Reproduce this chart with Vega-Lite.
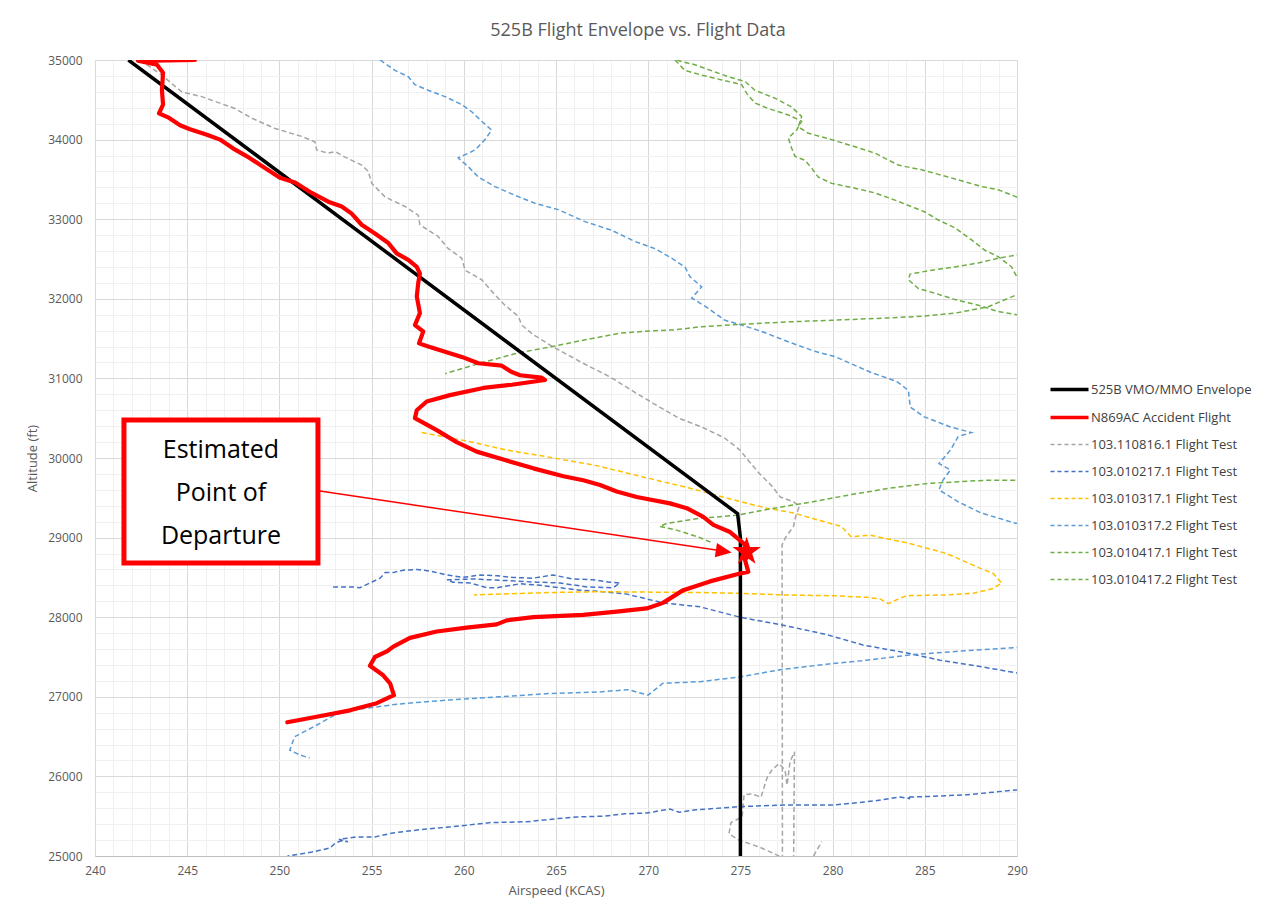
{
  "$schema": "https://vega.github.io/schema/vega-lite/v6.json",
  "autosize": {"type": "none"},
  "width": 922,
  "height": 796,
  "padding": {"left": 95, "top": 60, "right": 255, "bottom": 62},
  "background": "#ffffff",
  "config": {
    "view": {"stroke": null},
    "font": "Open Sans"
  },
  "title": {
    "text": "525B Flight Envelope vs. Flight Data",
    "font": "Open Sans",
    "fontSize": 18,
    "fontWeight": "normal",
    "color": "#595959",
    "anchor": "middle",
    "dx": 82,
    "offset": 14
  },
  "datasets": {
    "flights": [
      {"series": "525B VMO/MMO Envelope", "kcas": 241.81, "alt": 35000},
      {"series": "525B VMO/MMO Envelope", "kcas": 274.85, "alt": 29300},
      {"series": "525B VMO/MMO Envelope", "kcas": 275.0, "alt": 29000},
      {"series": "525B VMO/MMO Envelope", "kcas": 275.0, "alt": 25000},

      {"series": "N869AC Accident Flight", "kcas": 245.42, "alt": 35000},
      {"series": "N869AC Accident Flight", "kcas": 242.33, "alt": 34990},
      {"series": "N869AC Accident Flight", "kcas": 243.36, "alt": 34940},
      {"series": "N869AC Accident Flight", "kcas": 243.69, "alt": 34840},
      {"series": "N869AC Accident Flight", "kcas": 243.63, "alt": 34620},
      {"series": "N869AC Accident Flight", "kcas": 243.69, "alt": 34440},
      {"series": "N869AC Accident Flight", "kcas": 243.47, "alt": 34330},
      {"series": "N869AC Accident Flight", "kcas": 243.96, "alt": 34280},
      {"series": "N869AC Accident Flight", "kcas": 244.61, "alt": 34180},
      {"series": "N869AC Accident Flight", "kcas": 245.15, "alt": 34130},
      {"series": "N869AC Accident Flight", "kcas": 246.07, "alt": 34060},
      {"series": "N869AC Accident Flight", "kcas": 246.78, "alt": 34000},
      {"series": "N869AC Accident Flight", "kcas": 247.48, "alt": 33890},
      {"series": "N869AC Accident Flight", "kcas": 248.24, "alt": 33790},
      {"series": "N869AC Accident Flight", "kcas": 249.11, "alt": 33660},
      {"series": "N869AC Accident Flight", "kcas": 250.03, "alt": 33520},
      {"series": "N869AC Accident Flight", "kcas": 250.85, "alt": 33460},
      {"series": "N869AC Accident Flight", "kcas": 251.75, "alt": 33330},
      {"series": "N869AC Accident Flight", "kcas": 252.65, "alt": 33220},
      {"series": "N869AC Accident Flight", "kcas": 253.38, "alt": 33160},
      {"series": "N869AC Accident Flight", "kcas": 253.92, "alt": 33070},
      {"series": "N869AC Accident Flight", "kcas": 254.46, "alt": 32930},
      {"series": "N869AC Accident Flight", "kcas": 255.18, "alt": 32820},
      {"series": "N869AC Accident Flight", "kcas": 255.91, "alt": 32700},
      {"series": "N869AC Accident Flight", "kcas": 256.36, "alt": 32570},
      {"series": "N869AC Accident Flight", "kcas": 256.99, "alt": 32490},
      {"series": "N869AC Accident Flight", "kcas": 257.45, "alt": 32400},
      {"series": "N869AC Accident Flight", "kcas": 257.62, "alt": 32320},
      {"series": "N869AC Accident Flight", "kcas": 257.53, "alt": 32200},
      {"series": "N869AC Accident Flight", "kcas": 257.45, "alt": 32030},
      {"series": "N869AC Accident Flight", "kcas": 257.62, "alt": 31820},
      {"series": "N869AC Accident Flight", "kcas": 257.35, "alt": 31670},
      {"series": "N869AC Accident Flight", "kcas": 257.8, "alt": 31590},
      {"series": "N869AC Accident Flight", "kcas": 257.57, "alt": 31440},
      {"series": "N869AC Accident Flight", "kcas": 258.07, "alt": 31400},
      {"series": "N869AC Accident Flight", "kcas": 259.89, "alt": 31270},
      {"series": "N869AC Accident Flight", "kcas": 260.79, "alt": 31190},
      {"series": "N869AC Accident Flight", "kcas": 262.06, "alt": 31160},
      {"series": "N869AC Accident Flight", "kcas": 262.6, "alt": 31080},
      {"series": "N869AC Accident Flight", "kcas": 263.05, "alt": 31040},
      {"series": "N869AC Accident Flight", "kcas": 264.22, "alt": 31010},
      {"series": "N869AC Accident Flight", "kcas": 264.4, "alt": 30980},
      {"series": "N869AC Accident Flight", "kcas": 262.6, "alt": 30920},
      {"series": "N869AC Accident Flight", "kcas": 261.06, "alt": 30880},
      {"series": "N869AC Accident Flight", "kcas": 259.25, "alt": 30790},
      {"series": "N869AC Accident Flight", "kcas": 257.99, "alt": 30710},
      {"series": "N869AC Accident Flight", "kcas": 257.45, "alt": 30600},
      {"series": "N869AC Accident Flight", "kcas": 257.35, "alt": 30500},
      {"series": "N869AC Accident Flight", "kcas": 258.53, "alt": 30350},
      {"series": "N869AC Accident Flight", "kcas": 259.61, "alt": 30200},
      {"series": "N869AC Accident Flight", "kcas": 260.7, "alt": 30080},
      {"series": "N869AC Accident Flight", "kcas": 262.14, "alt": 29980},
      {"series": "N869AC Accident Flight", "kcas": 263.77, "alt": 29870},
      {"series": "N869AC Accident Flight", "kcas": 265.4, "alt": 29770},
      {"series": "N869AC Accident Flight", "kcas": 266.48, "alt": 29720},
      {"series": "N869AC Accident Flight", "kcas": 267.39, "alt": 29660},
      {"series": "N869AC Accident Flight", "kcas": 268.29, "alt": 29580},
      {"series": "N869AC Accident Flight", "kcas": 269.38, "alt": 29510},
      {"series": "N869AC Accident Flight", "kcas": 271.18, "alt": 29430},
      {"series": "N869AC Accident Flight", "kcas": 272.09, "alt": 29370},
      {"series": "N869AC Accident Flight", "kcas": 272.99, "alt": 29260},
      {"series": "N869AC Accident Flight", "kcas": 273.53, "alt": 29160},
      {"series": "N869AC Accident Flight", "kcas": 274.44, "alt": 29070},
      {"series": "N869AC Accident Flight", "kcas": 275.16, "alt": 28930},
      {"series": "N869AC Accident Flight", "kcas": 275.52, "alt": 28800},
      {"series": "N869AC Accident Flight", "kcas": 275.25, "alt": 28720},
      {"series": "N869AC Accident Flight", "kcas": 275.43, "alt": 28570},
      {"series": "N869AC Accident Flight", "kcas": 274.98, "alt": 28550},
      {"series": "N869AC Accident Flight", "kcas": 273.35, "alt": 28450},
      {"series": "N869AC Accident Flight", "kcas": 271.9, "alt": 28340},
      {"series": "N869AC Accident Flight", "kcas": 270.8, "alt": 28180},
      {"series": "N869AC Accident Flight", "kcas": 269.92, "alt": 28110},
      {"series": "N869AC Accident Flight", "kcas": 268.29, "alt": 28070},
      {"series": "N869AC Accident Flight", "kcas": 266.48, "alt": 28030},
      {"series": "N869AC Accident Flight", "kcas": 263.77, "alt": 28000},
      {"series": "N869AC Accident Flight", "kcas": 262.33, "alt": 27960},
      {"series": "N869AC Accident Flight", "kcas": 261.78, "alt": 27910},
      {"series": "N869AC Accident Flight", "kcas": 260.16, "alt": 27870},
      {"series": "N869AC Accident Flight", "kcas": 258.53, "alt": 27820},
      {"series": "N869AC Accident Flight", "kcas": 257.08, "alt": 27740},
      {"series": "N869AC Accident Flight", "kcas": 256.18, "alt": 27630},
      {"series": "N869AC Accident Flight", "kcas": 255.82, "alt": 27570},
      {"series": "N869AC Accident Flight", "kcas": 255.18, "alt": 27500},
      {"series": "N869AC Accident Flight", "kcas": 254.91, "alt": 27390},
      {"series": "N869AC Accident Flight", "kcas": 255.63, "alt": 27270},
      {"series": "N869AC Accident Flight", "kcas": 256.0, "alt": 27170},
      {"series": "N869AC Accident Flight", "kcas": 256.21, "alt": 27020},
      {"series": "N869AC Accident Flight", "kcas": 255.28, "alt": 26920},
      {"series": "N869AC Accident Flight", "kcas": 253.83, "alt": 26830},
      {"series": "N869AC Accident Flight", "kcas": 252.02, "alt": 26750},
      {"series": "N869AC Accident Flight", "kcas": 250.43, "alt": 26680},

      {"series": "103.110816.1 Flight Test", "kcas": 242.44, "alt": 35000},
      {"series": "103.110816.1 Flight Test", "kcas": 243.62, "alt": 34810},
      {"series": "103.110816.1 Flight Test", "kcas": 244.7, "alt": 34600},
      {"series": "103.110816.1 Flight Test", "kcas": 245.79, "alt": 34540},
      {"series": "103.110816.1 Flight Test", "kcas": 247.59, "alt": 34390},
      {"series": "103.110816.1 Flight Test", "kcas": 248.5, "alt": 34270},
      {"series": "103.110816.1 Flight Test", "kcas": 249.76, "alt": 34140},
      {"series": "103.110816.1 Flight Test", "kcas": 251.21, "alt": 34040},
      {"series": "103.110816.1 Flight Test", "kcas": 251.93, "alt": 33970},
      {"series": "103.110816.1 Flight Test", "kcas": 252.02, "alt": 33870},
      {"series": "103.110816.1 Flight Test", "kcas": 252.65, "alt": 33830},
      {"series": "103.110816.1 Flight Test", "kcas": 253.02, "alt": 33850},
      {"series": "103.110816.1 Flight Test", "kcas": 253.47, "alt": 33790},
      {"series": "103.110816.1 Flight Test", "kcas": 254.46, "alt": 33680},
      {"series": "103.110816.1 Flight Test", "kcas": 254.82, "alt": 33600},
      {"series": "103.110816.1 Flight Test", "kcas": 255.01, "alt": 33450},
      {"series": "103.110816.1 Flight Test", "kcas": 255.73, "alt": 33280},
      {"series": "103.110816.1 Flight Test", "kcas": 256.81, "alt": 33160},
      {"series": "103.110816.1 Flight Test", "kcas": 257.53, "alt": 33050},
      {"series": "103.110816.1 Flight Test", "kcas": 257.62, "alt": 32930},
      {"series": "103.110816.1 Flight Test", "kcas": 258.62, "alt": 32780},
      {"series": "103.110816.1 Flight Test", "kcas": 259.16, "alt": 32630},
      {"series": "103.110816.1 Flight Test", "kcas": 259.89, "alt": 32510},
      {"series": "103.110816.1 Flight Test", "kcas": 260.07, "alt": 32360},
      {"series": "103.110816.1 Flight Test", "kcas": 260.97, "alt": 32240},
      {"series": "103.110816.1 Flight Test", "kcas": 261.69, "alt": 32050},
      {"series": "103.110816.1 Flight Test", "kcas": 262.23, "alt": 31920},
      {"series": "103.110816.1 Flight Test", "kcas": 262.96, "alt": 31780},
      {"series": "103.110816.1 Flight Test", "kcas": 263.14, "alt": 31670},
      {"series": "103.110816.1 Flight Test", "kcas": 263.77, "alt": 31550},
      {"series": "103.110816.1 Flight Test", "kcas": 264.81, "alt": 31400},
      {"series": "103.110816.1 Flight Test", "kcas": 266.47, "alt": 31190},
      {"series": "103.110816.1 Flight Test", "kcas": 267.92, "alt": 31020},
      {"series": "103.110816.1 Flight Test", "kcas": 269.38, "alt": 30810},
      {"series": "103.110816.1 Flight Test", "kcas": 270.62, "alt": 30640},
      {"series": "103.110816.1 Flight Test", "kcas": 271.66, "alt": 30500},
      {"series": "103.110816.1 Flight Test", "kcas": 272.9, "alt": 30390},
      {"series": "103.110816.1 Flight Test", "kcas": 274.15, "alt": 30250},
      {"series": "103.110816.1 Flight Test", "kcas": 274.98, "alt": 30100},
      {"series": "103.110816.1 Flight Test", "kcas": 275.39, "alt": 29980},
      {"series": "103.110816.1 Flight Test", "kcas": 276.01, "alt": 29810},
      {"series": "103.110816.1 Flight Test", "kcas": 276.74, "alt": 29640},
      {"series": "103.110816.1 Flight Test", "kcas": 277.16, "alt": 29510},
      {"series": "103.110816.1 Flight Test", "kcas": 277.88, "alt": 29450},
      {"series": "103.110816.1 Flight Test", "kcas": 278.19, "alt": 29390},
      {"series": "103.110816.1 Flight Test", "kcas": 277.99, "alt": 29260},
      {"series": "103.110816.1 Flight Test", "kcas": 277.88, "alt": 29140},
      {"series": "103.110816.1 Flight Test", "kcas": 277.47, "alt": 29010},
      {"series": "103.110816.1 Flight Test", "kcas": 277.26, "alt": 28910},
      {"series": "103.110816.1 Flight Test", "kcas": 277.28, "alt": 25000},
      {"series": "103.110816.1 Flight Test", "kcas": 277.28, "alt": 24700},
      {"series": "103.110816.1 Flight Test", "kcas": 277.88, "alt": 24700},
      {"series": "103.110816.1 Flight Test", "kcas": 277.93, "alt": 26310},
      {"series": "103.110816.1 Flight Test", "kcas": 277.69, "alt": 26180},
      {"series": "103.110816.1 Flight Test", "kcas": 277.53, "alt": 25890},
      {"series": "103.110816.1 Flight Test", "kcas": 277.42, "alt": 26080},
      {"series": "103.110816.1 Flight Test", "kcas": 277.09, "alt": 26160},
      {"series": "103.110816.1 Flight Test", "kcas": 276.71, "alt": 26080},
      {"series": "103.110816.1 Flight Test", "kcas": 276.44, "alt": 25980},
      {"series": "103.110816.1 Flight Test", "kcas": 276.12, "alt": 25740},
      {"series": "103.110816.1 Flight Test", "kcas": 275.63, "alt": 25780},
      {"series": "103.110816.1 Flight Test", "kcas": 275.2, "alt": 25770},
      {"series": "103.110816.1 Flight Test", "kcas": 275.09, "alt": 25490},
      {"series": "103.110816.1 Flight Test", "kcas": 274.49, "alt": 25420},
      {"series": "103.110816.1 Flight Test", "kcas": 274.38, "alt": 25280},
      {"series": "103.110816.1 Flight Test", "kcas": 274.92, "alt": 25200},
      {"series": "103.110816.1 Flight Test", "kcas": 276.06, "alt": 25110},
      {"series": "103.110816.1 Flight Test", "kcas": 277.09, "alt": 25000},
      {"series": "103.110816.1 Flight Test", "kcas": 277.42, "alt": 24700},
      {"series": "103.110816.1 Flight Test", "kcas": 278.89, "alt": 24700},
      {"series": "103.110816.1 Flight Test", "kcas": 278.94, "alt": 24990},
      {"series": "103.110816.1 Flight Test", "kcas": 279.41, "alt": 25180},

      {"series": "103.010217.1 Flight Test", "kcas": 252.91, "alt": 28380},
      {"series": "103.010217.1 Flight Test", "kcas": 253.99, "alt": 28380},
      {"series": "103.010217.1 Flight Test", "kcas": 254.37, "alt": 28370},
      {"series": "103.010217.1 Flight Test", "kcas": 254.91, "alt": 28430},
      {"series": "103.010217.1 Flight Test", "kcas": 255.46, "alt": 28490},
      {"series": "103.010217.1 Flight Test", "kcas": 255.73, "alt": 28560},
      {"series": "103.010217.1 Flight Test", "kcas": 256.16, "alt": 28560},
      {"series": "103.010217.1 Flight Test", "kcas": 256.7, "alt": 28590},
      {"series": "103.010217.1 Flight Test", "kcas": 257.46, "alt": 28600},
      {"series": "103.010217.1 Flight Test", "kcas": 258.17, "alt": 28580},
      {"series": "103.010217.1 Flight Test", "kcas": 259.09, "alt": 28530},
      {"series": "103.010217.1 Flight Test", "kcas": 259.96, "alt": 28500},
      {"series": "103.010217.1 Flight Test", "kcas": 260.88, "alt": 28530},
      {"series": "103.010217.1 Flight Test", "kcas": 261.8, "alt": 28520},
      {"series": "103.010217.1 Flight Test", "kcas": 262.67, "alt": 28500},
      {"series": "103.010217.1 Flight Test", "kcas": 263.75, "alt": 28490},
      {"series": "103.010217.1 Flight Test", "kcas": 264.84, "alt": 28530},
      {"series": "103.010217.1 Flight Test", "kcas": 265.92, "alt": 28480},
      {"series": "103.010217.1 Flight Test", "kcas": 267.01, "alt": 28470},
      {"series": "103.010217.1 Flight Test", "kcas": 267.93, "alt": 28440},
      {"series": "103.010217.1 Flight Test", "kcas": 268.47, "alt": 28430},
      {"series": "103.010217.1 Flight Test", "kcas": 268.09, "alt": 28370},
      {"series": "103.010217.1 Flight Test", "kcas": 266.68, "alt": 28380},
      {"series": "103.010217.1 Flight Test", "kcas": 265.22, "alt": 28430},
      {"series": "103.010217.1 Flight Test", "kcas": 263.97, "alt": 28440},
      {"series": "103.010217.1 Flight Test", "kcas": 262.34, "alt": 28460},
      {"series": "103.010217.1 Flight Test", "kcas": 260.5, "alt": 28480},
      {"series": "103.010217.1 Flight Test", "kcas": 259.09, "alt": 28470},
      {"series": "103.010217.1 Flight Test", "kcas": 259.41, "alt": 28440},
      {"series": "103.010217.1 Flight Test", "kcas": 260.34, "alt": 28430},
      {"series": "103.010217.1 Flight Test", "kcas": 261.26, "alt": 28370},
      {"series": "103.010217.1 Flight Test", "kcas": 261.8, "alt": 28370},
      {"series": "103.010217.1 Flight Test", "kcas": 263.05, "alt": 28420},
      {"series": "103.010217.1 Flight Test", "kcas": 264.13, "alt": 28400},
      {"series": "103.010217.1 Flight Test", "kcas": 264.84, "alt": 28380},
      {"series": "103.010217.1 Flight Test", "kcas": 266.3, "alt": 28340},
      {"series": "103.010217.1 Flight Test", "kcas": 267.55, "alt": 28320},
      {"series": "103.010217.1 Flight Test", "kcas": 268.85, "alt": 28290},
      {"series": "103.010217.1 Flight Test", "kcas": 269.72, "alt": 28240},
      {"series": "103.010217.1 Flight Test", "kcas": 270.8, "alt": 28180},
      {"series": "103.010217.1 Flight Test", "kcas": 272.81, "alt": 28130},
      {"series": "103.010217.1 Flight Test", "kcas": 274.98, "alt": 28000},
      {"series": "103.010217.1 Flight Test", "kcas": 277.31, "alt": 27900},
      {"series": "103.010217.1 Flight Test", "kcas": 279.7, "alt": 27780},
      {"series": "103.010217.1 Flight Test", "kcas": 281.65, "alt": 27650},
      {"series": "103.010217.1 Flight Test", "kcas": 284.04, "alt": 27550},
      {"series": "103.010217.1 Flight Test", "kcas": 285.83, "alt": 27460},
      {"series": "103.010217.1 Flight Test", "kcas": 287.99, "alt": 27380},
      {"series": "103.010217.1 Flight Test", "kcas": 290.0, "alt": 27300},
      {"series": "103.010217.1 Flight Test", "kcas": 292.33, "alt": 27210},
      {"series": "103.010217.1 Flight Test", "kcas": 292.33, "alt": 25890},
      {"series": "103.010217.1 Flight Test", "kcas": 290.0, "alt": 25830},
      {"series": "103.010217.1 Flight Test", "kcas": 287.29, "alt": 25770},
      {"series": "103.010217.1 Flight Test", "kcas": 285.44, "alt": 25750},
      {"series": "103.010217.1 Flight Test", "kcas": 284.04, "alt": 25740},
      {"series": "103.010217.1 Flight Test", "kcas": 284.2, "alt": 25720},
      {"series": "103.010217.1 Flight Test", "kcas": 283.66, "alt": 25740},
      {"series": "103.010217.1 Flight Test", "kcas": 282.19, "alt": 25690},
      {"series": "103.010217.1 Flight Test", "kcas": 280.02, "alt": 25640},
      {"series": "103.010217.1 Flight Test", "kcas": 277.31, "alt": 25640},
      {"series": "103.010217.1 Flight Test", "kcas": 274.98, "alt": 25620},
      {"series": "103.010217.1 Flight Test", "kcas": 272.59, "alt": 25580},
      {"series": "103.010217.1 Flight Test", "kcas": 271.67, "alt": 25550},
      {"series": "103.010217.1 Flight Test", "kcas": 271.18, "alt": 25590},
      {"series": "103.010217.1 Flight Test", "kcas": 269.93, "alt": 25540},
      {"series": "103.010217.1 Flight Test", "kcas": 268.74, "alt": 25530},
      {"series": "103.010217.1 Flight Test", "kcas": 267.55, "alt": 25500},
      {"series": "103.010217.1 Flight Test", "kcas": 266.08, "alt": 25490},
      {"series": "103.010217.1 Flight Test", "kcas": 265.11, "alt": 25470},
      {"series": "103.010217.1 Flight Test", "kcas": 263.43, "alt": 25430},
      {"series": "103.010217.1 Flight Test", "kcas": 261.47, "alt": 25420},
      {"series": "103.010217.1 Flight Test", "kcas": 260.28, "alt": 25390},
      {"series": "103.010217.1 Flight Test", "kcas": 259.03, "alt": 25360},
      {"series": "103.010217.1 Flight Test", "kcas": 257.62, "alt": 25330},
      {"series": "103.010217.1 Flight Test", "kcas": 256.16, "alt": 25290},
      {"series": "103.010217.1 Flight Test", "kcas": 255.18, "alt": 25240},
      {"series": "103.010217.1 Flight Test", "kcas": 254.21, "alt": 25240},
      {"series": "103.010217.1 Flight Test", "kcas": 253.23, "alt": 25210},
      {"series": "103.010217.1 Flight Test", "kcas": 253.72, "alt": 25180},
      {"series": "103.010217.1 Flight Test", "kcas": 253.34, "alt": 25190},
      {"series": "103.010217.1 Flight Test", "kcas": 253.01, "alt": 25160},
      {"series": "103.010217.1 Flight Test", "kcas": 252.74, "alt": 25100},
      {"series": "103.010217.1 Flight Test", "kcas": 251.77, "alt": 25050},
      {"series": "103.010217.1 Flight Test", "kcas": 250.47, "alt": 25000},
      {"series": "103.010217.1 Flight Test", "kcas": 250.03, "alt": 24820},

      {"series": "103.010317.1 Flight Test", "kcas": 257.72, "alt": 30320},
      {"series": "103.010317.1 Flight Test", "kcas": 260.24, "alt": 30210},
      {"series": "103.010317.1 Flight Test", "kcas": 262.32, "alt": 30100},
      {"series": "103.010317.1 Flight Test", "kcas": 264.39, "alt": 30020},
      {"series": "103.010317.1 Flight Test", "kcas": 267.09, "alt": 29910},
      {"series": "103.010317.1 Flight Test", "kcas": 269.58, "alt": 29770},
      {"series": "103.010317.1 Flight Test", "kcas": 272.28, "alt": 29620},
      {"series": "103.010317.1 Flight Test", "kcas": 274.35, "alt": 29490},
      {"series": "103.010317.1 Flight Test", "kcas": 276.43, "alt": 29370},
      {"series": "103.010317.1 Flight Test", "kcas": 277.88, "alt": 29310},
      {"series": "103.010317.1 Flight Test", "kcas": 278.92, "alt": 29240},
      {"series": "103.010317.1 Flight Test", "kcas": 280.48, "alt": 29140},
      {"series": "103.010317.1 Flight Test", "kcas": 281.0, "alt": 29010},
      {"series": "103.010317.1 Flight Test", "kcas": 282.03, "alt": 29030},
      {"series": "103.010317.1 Flight Test", "kcas": 284.11, "alt": 28930},
      {"series": "103.010317.1 Flight Test", "kcas": 286.18, "alt": 28800},
      {"series": "103.010317.1 Flight Test", "kcas": 288.05, "alt": 28610},
      {"series": "103.010317.1 Flight Test", "kcas": 288.71, "alt": 28550},
      {"series": "103.010317.1 Flight Test", "kcas": 289.17, "alt": 28430},
      {"series": "103.010317.1 Flight Test", "kcas": 288.71, "alt": 28360},
      {"series": "103.010317.1 Flight Test", "kcas": 287.63, "alt": 28300},
      {"series": "103.010317.1 Flight Test", "kcas": 286.19, "alt": 28280},
      {"series": "103.010317.1 Flight Test", "kcas": 284.02, "alt": 28270},
      {"series": "103.010317.1 Flight Test", "kcas": 283.48, "alt": 28220},
      {"series": "103.010317.1 Flight Test", "kcas": 283.02, "alt": 28170},
      {"series": "103.010317.1 Flight Test", "kcas": 282.57, "alt": 28230},
      {"series": "103.010317.1 Flight Test", "kcas": 281.85, "alt": 28250},
      {"series": "103.010317.1 Flight Test", "kcas": 280.04, "alt": 28270},
      {"series": "103.010317.1 Flight Test", "kcas": 277.33, "alt": 28280},
      {"series": "103.010317.1 Flight Test", "kcas": 274.98, "alt": 28300},
      {"series": "103.010317.1 Flight Test", "kcas": 272.81, "alt": 28310},
      {"series": "103.010317.1 Flight Test", "kcas": 267.29, "alt": 28320},
      {"series": "103.010317.1 Flight Test", "kcas": 264.59, "alt": 28310},
      {"series": "103.010317.1 Flight Test", "kcas": 260.55, "alt": 28280},

      {"series": "103.010317.2 Flight Test", "kcas": 255.46, "alt": 35000},
      {"series": "103.010317.2 Flight Test", "kcas": 256.27, "alt": 34870},
      {"series": "103.010317.2 Flight Test", "kcas": 256.99, "alt": 34790},
      {"series": "103.010317.2 Flight Test", "kcas": 257.35, "alt": 34690},
      {"series": "103.010317.2 Flight Test", "kcas": 258.07, "alt": 34620},
      {"series": "103.010317.2 Flight Test", "kcas": 258.98, "alt": 34540},
      {"series": "103.010317.2 Flight Test", "kcas": 259.34, "alt": 34500},
      {"series": "103.010317.2 Flight Test", "kcas": 259.89, "alt": 34440},
      {"series": "103.010317.2 Flight Test", "kcas": 260.43, "alt": 34350},
      {"series": "103.010317.2 Flight Test", "kcas": 260.97, "alt": 34230},
      {"series": "103.010317.2 Flight Test", "kcas": 261.51, "alt": 34120},
      {"series": "103.010317.2 Flight Test", "kcas": 261.15, "alt": 34000},
      {"series": "103.010317.2 Flight Test", "kcas": 260.61, "alt": 33870},
      {"series": "103.010317.2 Flight Test", "kcas": 259.7, "alt": 33770},
      {"series": "103.010317.2 Flight Test", "kcas": 260.24, "alt": 33660},
      {"series": "103.010317.2 Flight Test", "kcas": 260.79, "alt": 33530},
      {"series": "103.010317.2 Flight Test", "kcas": 261.69, "alt": 33410},
      {"series": "103.010317.2 Flight Test", "kcas": 262.78, "alt": 33300},
      {"series": "103.010317.2 Flight Test", "kcas": 263.86, "alt": 33200},
      {"series": "103.010317.2 Flight Test", "kcas": 265.12, "alt": 33120},
      {"series": "103.010317.2 Flight Test", "kcas": 266.57, "alt": 32970},
      {"series": "103.010317.2 Flight Test", "kcas": 268.02, "alt": 32860},
      {"series": "103.010317.2 Flight Test", "kcas": 269.28, "alt": 32720},
      {"series": "103.010317.2 Flight Test", "kcas": 270.37, "alt": 32630},
      {"series": "103.010317.2 Flight Test", "kcas": 271.27, "alt": 32510},
      {"series": "103.010317.2 Flight Test", "kcas": 271.99, "alt": 32400},
      {"series": "103.010317.2 Flight Test", "kcas": 272.26, "alt": 32280},
      {"series": "103.010317.2 Flight Test", "kcas": 272.9, "alt": 32150},
      {"series": "103.010317.2 Flight Test", "kcas": 272.36, "alt": 32010},
      {"series": "103.010317.2 Flight Test", "kcas": 273.26, "alt": 31880},
      {"series": "103.010317.2 Flight Test", "kcas": 274.16, "alt": 31730},
      {"series": "103.010317.2 Flight Test", "kcas": 275.07, "alt": 31670},
      {"series": "103.010317.2 Flight Test", "kcas": 276.15, "alt": 31590},
      {"series": "103.010317.2 Flight Test", "kcas": 277.6, "alt": 31460},
      {"series": "103.010317.2 Flight Test", "kcas": 279.04, "alt": 31340},
      {"series": "103.010317.2 Flight Test", "kcas": 280.17, "alt": 31270},
      {"series": "103.010317.2 Flight Test", "kcas": 282.03, "alt": 31080},
      {"series": "103.010317.2 Flight Test", "kcas": 283.49, "alt": 30960},
      {"series": "103.010317.2 Flight Test", "kcas": 284.11, "alt": 30850},
      {"series": "103.010317.2 Flight Test", "kcas": 284.21, "alt": 30640},
      {"series": "103.010317.2 Flight Test", "kcas": 284.94, "alt": 30520},
      {"series": "103.010317.2 Flight Test", "kcas": 286.39, "alt": 30390},
      {"series": "103.010317.2 Flight Test", "kcas": 287.53, "alt": 30320},
      {"series": "103.010317.2 Flight Test", "kcas": 286.81, "alt": 30270},
      {"series": "103.010317.2 Flight Test", "kcas": 286.39, "alt": 30100},
      {"series": "103.010317.2 Flight Test", "kcas": 285.77, "alt": 29930},
      {"series": "103.010317.2 Flight Test", "kcas": 286.39, "alt": 29850},
      {"series": "103.010317.2 Flight Test", "kcas": 285.98, "alt": 29720},
      {"series": "103.010317.2 Flight Test", "kcas": 285.77, "alt": 29600},
      {"series": "103.010317.2 Flight Test", "kcas": 286.81, "alt": 29450},
      {"series": "103.010317.2 Flight Test", "kcas": 288.05, "alt": 29310},
      {"series": "103.010317.2 Flight Test", "kcas": 289.92, "alt": 29180},
      {"series": "103.010317.2 Flight Test", "kcas": 292.33, "alt": 29180},
      {"series": "103.010317.2 Flight Test", "kcas": 292.33, "alt": 27630},
      {"series": "103.010317.2 Flight Test", "kcas": 289.98, "alt": 27620},
      {"series": "103.010317.2 Flight Test", "kcas": 287.27, "alt": 27580},
      {"series": "103.010317.2 Flight Test", "kcas": 284.38, "alt": 27530},
      {"series": "103.010317.2 Flight Test", "kcas": 281.85, "alt": 27460},
      {"series": "103.010317.2 Flight Test", "kcas": 279.68, "alt": 27410},
      {"series": "103.010317.2 Flight Test", "kcas": 277.15, "alt": 27340},
      {"series": "103.010317.2 Flight Test", "kcas": 274.98, "alt": 27250},
      {"series": "103.010317.2 Flight Test", "kcas": 272.81, "alt": 27190},
      {"series": "103.010317.2 Flight Test", "kcas": 270.8, "alt": 27170},
      {"series": "103.010317.2 Flight Test", "kcas": 269.99, "alt": 27020},
      {"series": "103.010317.2 Flight Test", "kcas": 268.91, "alt": 27090},
      {"series": "103.010317.2 Flight Test", "kcas": 267.29, "alt": 27060},
      {"series": "103.010317.2 Flight Test", "kcas": 264.59, "alt": 27040},
      {"series": "103.010317.2 Flight Test", "kcas": 261.9, "alt": 27000},
      {"series": "103.010317.2 Flight Test", "kcas": 259.2, "alt": 26960},
      {"series": "103.010317.2 Flight Test", "kcas": 256.5, "alt": 26910},
      {"series": "103.010317.2 Flight Test", "kcas": 253.8, "alt": 26830},
      {"series": "103.010317.2 Flight Test", "kcas": 252.99, "alt": 26770},
      {"series": "103.010317.2 Flight Test", "kcas": 251.91, "alt": 26630},
      {"series": "103.010317.2 Flight Test", "kcas": 250.83, "alt": 26500},
      {"series": "103.010317.2 Flight Test", "kcas": 250.56, "alt": 26330},
      {"series": "103.010317.2 Flight Test", "kcas": 251.11, "alt": 26270},
      {"series": "103.010317.2 Flight Test", "kcas": 251.64, "alt": 26230},

      {"series": "103.010417.1 Flight Test", "kcas": 271.55, "alt": 35000},
      {"series": "103.010417.1 Flight Test", "kcas": 271.82, "alt": 34980},
      {"series": "103.010417.1 Flight Test", "kcas": 272.54, "alt": 34940},
      {"series": "103.010417.1 Flight Test", "kcas": 273.62, "alt": 34850},
      {"series": "103.010417.1 Flight Test", "kcas": 274.34, "alt": 34790},
      {"series": "103.010417.1 Flight Test", "kcas": 275.25, "alt": 34730},
      {"series": "103.010417.1 Flight Test", "kcas": 275.79, "alt": 34620},
      {"series": "103.010417.1 Flight Test", "kcas": 276.87, "alt": 34520},
      {"series": "103.010417.1 Flight Test", "kcas": 277.78, "alt": 34410},
      {"series": "103.010417.1 Flight Test", "kcas": 278.32, "alt": 34290},
      {"series": "103.010417.1 Flight Test", "kcas": 278.14, "alt": 34160},
      {"series": "103.010417.1 Flight Test", "kcas": 278.68, "alt": 34080},
      {"series": "103.010417.1 Flight Test", "kcas": 279.95, "alt": 34000},
      {"series": "103.010417.1 Flight Test", "kcas": 281.21, "alt": 33910},
      {"series": "103.010417.1 Flight Test", "kcas": 282.3, "alt": 33830},
      {"series": "103.010417.1 Flight Test", "kcas": 283.56, "alt": 33680},
      {"series": "103.010417.1 Flight Test", "kcas": 284.83, "alt": 33620},
      {"series": "103.010417.1 Flight Test", "kcas": 286.27, "alt": 33530},
      {"series": "103.010417.1 Flight Test", "kcas": 287.18, "alt": 33470},
      {"series": "103.010417.1 Flight Test", "kcas": 288.08, "alt": 33410},
      {"series": "103.010417.1 Flight Test", "kcas": 288.98, "alt": 33370},
      {"series": "103.010417.1 Flight Test", "kcas": 289.98, "alt": 33280},
      {"series": "103.010417.1 Flight Test", "kcas": 292.33, "alt": 33280},
      {"series": "103.010417.1 Flight Test", "kcas": 292.33, "alt": 32550},
      {"series": "103.010417.1 Flight Test", "kcas": 289.98, "alt": 32550},
      {"series": "103.010417.1 Flight Test", "kcas": 288.98, "alt": 32510},
      {"series": "103.010417.1 Flight Test", "kcas": 287.9, "alt": 32450},
      {"series": "103.010417.1 Flight Test", "kcas": 286.64, "alt": 32400},
      {"series": "103.010417.1 Flight Test", "kcas": 285.37, "alt": 32360},
      {"series": "103.010417.1 Flight Test", "kcas": 284.2, "alt": 32310},
      {"series": "103.010417.1 Flight Test", "kcas": 284.11, "alt": 32240},
      {"series": "103.010417.1 Flight Test", "kcas": 284.65, "alt": 32130},
      {"series": "103.010417.1 Flight Test", "kcas": 285.55, "alt": 32070},
      {"series": "103.010417.1 Flight Test", "kcas": 286.64, "alt": 31990},
      {"series": "103.010417.1 Flight Test", "kcas": 287.9, "alt": 31920},
      {"series": "103.010417.1 Flight Test", "kcas": 288.98, "alt": 31840},
      {"series": "103.010417.1 Flight Test", "kcas": 289.98, "alt": 31800},
      {"series": "103.010417.1 Flight Test", "kcas": 292.33, "alt": 31800},
      {"series": "103.010417.1 Flight Test", "kcas": 292.33, "alt": 29720},
      {"series": "103.010417.1 Flight Test", "kcas": 289.92, "alt": 29720},
      {"series": "103.010417.1 Flight Test", "kcas": 288.26, "alt": 29720},
      {"series": "103.010417.1 Flight Test", "kcas": 285.15, "alt": 29680},
      {"series": "103.010417.1 Flight Test", "kcas": 283.07, "alt": 29620},
      {"series": "103.010417.1 Flight Test", "kcas": 281.0, "alt": 29540},
      {"series": "103.010417.1 Flight Test", "kcas": 278.92, "alt": 29450},
      {"series": "103.010417.1 Flight Test", "kcas": 276.84, "alt": 29370},
      {"series": "103.010417.1 Flight Test", "kcas": 274.77, "alt": 29280},
      {"series": "103.010417.1 Flight Test", "kcas": 272.69, "alt": 29240},
      {"series": "103.010417.1 Flight Test", "kcas": 271.03, "alt": 29180},
      {"series": "103.010417.1 Flight Test", "kcas": 270.62, "alt": 29140},
      {"series": "103.010417.1 Flight Test", "kcas": 271.45, "alt": 29100},
      {"series": "103.010417.1 Flight Test", "kcas": 272.69, "alt": 29010},
      {"series": "103.010417.1 Flight Test", "kcas": 273.52, "alt": 28930},

      {"series": "103.010417.2 Flight Test", "kcas": 271.45, "alt": 35000},
      {"series": "103.010417.2 Flight Test", "kcas": 271.99, "alt": 34870},
      {"series": "103.010417.2 Flight Test", "kcas": 272.9, "alt": 34810},
      {"series": "103.010417.2 Flight Test", "kcas": 273.99, "alt": 34750},
      {"series": "103.010417.2 Flight Test", "kcas": 275.07, "alt": 34690},
      {"series": "103.010417.2 Flight Test", "kcas": 275.34, "alt": 34580},
      {"series": "103.010417.2 Flight Test", "kcas": 275.79, "alt": 34460},
      {"series": "103.010417.2 Flight Test", "kcas": 276.51, "alt": 34390},
      {"series": "103.010417.2 Flight Test", "kcas": 277.6, "alt": 34310},
      {"series": "103.010417.2 Flight Test", "kcas": 278.32, "alt": 34230},
      {"series": "103.010417.2 Flight Test", "kcas": 278.05, "alt": 34120},
      {"series": "103.010417.2 Flight Test", "kcas": 277.6, "alt": 34020},
      {"series": "103.010417.2 Flight Test", "kcas": 277.78, "alt": 33890},
      {"series": "103.010417.2 Flight Test", "kcas": 277.96, "alt": 33790},
      {"series": "103.010417.2 Flight Test", "kcas": 278.5, "alt": 33740},
      {"series": "103.010417.2 Flight Test", "kcas": 278.87, "alt": 33640},
      {"series": "103.010417.2 Flight Test", "kcas": 279.22, "alt": 33530},
      {"series": "103.010417.2 Flight Test", "kcas": 279.95, "alt": 33450},
      {"series": "103.010417.2 Flight Test", "kcas": 281.21, "alt": 33390},
      {"series": "103.010417.2 Flight Test", "kcas": 282.3, "alt": 33330},
      {"series": "103.010417.2 Flight Test", "kcas": 283.38, "alt": 33240},
      {"series": "103.010417.2 Flight Test", "kcas": 284.47, "alt": 33140},
      {"series": "103.010417.2 Flight Test", "kcas": 285.01, "alt": 33090},
      {"series": "103.010417.2 Flight Test", "kcas": 285.73, "alt": 32990},
      {"series": "103.010417.2 Flight Test", "kcas": 286.64, "alt": 32890},
      {"series": "103.010417.2 Flight Test", "kcas": 287.54, "alt": 32740},
      {"series": "103.010417.2 Flight Test", "kcas": 288.26, "alt": 32610},
      {"series": "103.010417.2 Flight Test", "kcas": 288.98, "alt": 32530},
      {"series": "103.010417.2 Flight Test", "kcas": 289.71, "alt": 32400},
      {"series": "103.010417.2 Flight Test", "kcas": 289.98, "alt": 32280},
      {"series": "103.010417.2 Flight Test", "kcas": 292.33, "alt": 32270},
      {"series": "103.010417.2 Flight Test", "kcas": 292.33, "alt": 32050},
      {"series": "103.010417.2 Flight Test", "kcas": 289.98, "alt": 32050},
      {"series": "103.010417.2 Flight Test", "kcas": 288.44, "alt": 31900},
      {"series": "103.010417.2 Flight Test", "kcas": 286.64, "alt": 31820},
      {"series": "103.010417.2 Flight Test", "kcas": 284.83, "alt": 31780},
      {"series": "103.010417.2 Flight Test", "kcas": 283.02, "alt": 31760},
      {"series": "103.010417.2 Flight Test", "kcas": 279.95, "alt": 31730},
      {"series": "103.010417.2 Flight Test", "kcas": 277.6, "alt": 31710},
      {"series": "103.010417.2 Flight Test", "kcas": 275.07, "alt": 31680},
      {"series": "103.010417.2 Flight Test", "kcas": 272.9, "alt": 31650},
      {"series": "103.010417.2 Flight Test", "kcas": 271.45, "alt": 31610},
      {"series": "103.010417.2 Flight Test", "kcas": 270.37, "alt": 31600},
      {"series": "103.010417.2 Flight Test", "kcas": 268.54, "alt": 31570},
      {"series": "103.010417.2 Flight Test", "kcas": 266.47, "alt": 31480},
      {"series": "103.010417.2 Flight Test", "kcas": 264.81, "alt": 31400},
      {"series": "103.010417.2 Flight Test", "kcas": 262.94, "alt": 31320},
      {"series": "103.010417.2 Flight Test", "kcas": 260.87, "alt": 31190},
      {"series": "103.010417.2 Flight Test", "kcas": 258.99, "alt": 31060}
    ]
  },
  "resolve": {"axis": {"x": "independent", "y": "independent"}},
  "layer": [
    {
      "data": {"name": "flights"},
      "transform": [{"filter": "datum.series !== '525B VMO/MMO Envelope' && datum.series !== 'N869AC Accident Flight'"}],
      "mark": {"type": "line", "clip": true, "strokeWidth": 1.5, "strokeDash": [5, 3]},
      "encoding": {
        "x": {
          "field": "kcas", "type": "quantitative",
          "scale": {"domain": [240, 290], "nice": false, "zero": false},
          "axis": {"orient": "bottom", "values": [240,241,242,243,244,245,246,247,248,249,250,251,252,253,254,255,256,257,258,259,260,261,262,263,264,265,266,267,268,269,270,271,272,273,274,275,276,277,278,279,280,281,282,283,284,285,286,287,288,289,290],
                   "grid": true, "gridColor": "#f0f0f0", "gridWidth": 1, "labels": false, "ticks": false, "domain": false, "title": null}
        },
        "y": {
          "field": "alt", "type": "quantitative",
          "scale": {"domain": [25000, 35000], "nice": false, "zero": false},
          "axis": {"orient": "left", "values": [25000,25200,25400,25600,25800,26000,26200,26400,26600,26800,27000,27200,27400,27600,27800,28000,28200,28400,28600,28800,29000,29200,29400,29600,29800,30000,30200,30400,30600,30800,31000,31200,31400,31600,31800,32000,32200,32400,32600,32800,33000,33200,33400,33600,33800,34000,34200,34400,34600,34800,35000],
                   "grid": true, "gridColor": "#f0f0f0", "gridWidth": 1, "labels": false, "ticks": false, "domain": false, "title": null}
        },
        "color": {
          "field": "series", "type": "nominal",
          "scale": {
            "domain": ["525B VMO/MMO Envelope", "N869AC Accident Flight", "103.110816.1 Flight Test", "103.010217.1 Flight Test", "103.010317.1 Flight Test", "103.010317.2 Flight Test", "103.010417.1 Flight Test", "103.010417.2 Flight Test"],
            "range": ["#000000", "#ff0000", "#a5a5a5", "#4472c4", "#ffc000", "#5b9bd5", "#70ad47", "#70ad47"]
          },
          "legend": {
            "orient": "none", "legendX": 968, "legendY": 323, "title": null,
            "symbolType": "stroke", "symbolSize": 1444,
            "labelFont": "Open Sans", "labelFontSize": 13, "labelColor": "#404040",
            "labelOffset": 15, "rowPadding": 13, "labelLimit": 300,
            "encode": {
              "symbols": {
                "update": {
                  "strokeWidth": {"signal": "datum.value === '525B VMO/MMO Envelope' || datum.value === 'N869AC Accident Flight' ? 3.5 : 1.5"},
                  "strokeDash": {"signal": "datum.value === '525B VMO/MMO Envelope' || datum.value === 'N869AC Accident Flight' ? [1, 0] : [4, 3]"}
                }
              }
            }
          }
        },
        "order": {"value": null}
      }
    },
    {
      "data": {"name": "flights"},
      "transform": [{"filter": "datum.series === '525B VMO/MMO Envelope'"}],
      "mark": {"type": "line", "clip": true, "strokeWidth": 3.5},
      "encoding": {
        "x": {
          "field": "kcas", "type": "quantitative",
          "axis": {"orient": "bottom", "values": [240,245,250,255,260,265,270,275,280,285,290],
                   "grid": true, "gridColor": "#d9d9d9", "gridWidth": 1, "labels": true, "ticks": false,
                   "domain": true, "domainColor": "#bfbfbf", "domainWidth": 1,
                   "labelFlush": false, "labelFont": "Open Sans", "labelFontSize": 12, "labelColor": "#595959", "labelPadding": 9,
                   "title": "Airspeed (KCAS)", "titleFont": "Open Sans", "titleFontSize": 13, "titleFontWeight": "normal", "titleColor": "#595959", "titlePadding": 8}
        },
        "y": {
          "field": "alt", "type": "quantitative",
          "axis": {"orient": "left", "values": [25000,26000,27000,28000,29000,30000,31000,32000,33000,34000,35000],
                   "format": "d",
                   "grid": true, "gridColor": "#d9d9d9", "gridWidth": 1, "labels": true, "ticks": false,
                   "domain": false, "labelFlush": false,
                   "labelFont": "Open Sans", "labelFontSize": 12, "labelColor": "#595959", "labelPadding": 13,
                   "title": "Altitude (ft)", "titleFont": "Open Sans", "titleFontSize": 13, "titleFontWeight": "normal", "titleColor": "#595959", "titlePadding": 8}
        },
        "color": {"field": "series", "type": "nominal"},
        "order": {"value": null}
      }
    },
    {
      "data": {"name": "flights"},
      "transform": [{"filter": "datum.series === 'N869AC Accident Flight'"}],
      "mark": {"type": "line", "clip": true, "strokeWidth": 4.2, "strokeJoin": "round", "strokeCap": "round"},
      "encoding": {
        "x": {"field": "kcas", "type": "quantitative", "axis": null},
        "y": {"field": "alt", "type": "quantitative", "axis": null},
        "color": {"field": "series", "type": "nominal"},
        "order": {"value": null}
      }
    },
    {
      "data": {"values": [{"x1": 252.2, "y1": 29585, "x2": 273.68, "y2": 28844}]},
      "mark": {"type": "rule", "color": "#ff0000", "strokeWidth": 1.5},
      "encoding": {
        "x": {"field": "x1", "type": "quantitative", "axis": null},
        "y": {"field": "y1", "type": "quantitative", "axis": null},
        "x2": {"field": "x2"},
        "y2": {"field": "y2"}
      }
    },
    {
      "data": {"values": [{"kcas": 274.1, "alt": 28828}]},
      "mark": {"type": "point", "shape": "M-1,-0.9L1,0L-1,0.9Z", "size": 256, "angle": 8.5, "filled": true, "color": "#ff0000", "opacity": 1, "strokeWidth": 0},
      "encoding": {
        "x": {"field": "kcas", "type": "quantitative", "axis": null},
        "y": {"field": "alt", "type": "quantitative", "axis": null}
      }
    },
    {
      "data": {"values": [{"kcas": 275.34, "alt": 28823}]},
      "mark": {"type": "point", "shape": "M0,-1L0.2245,-0.309L0.951,-0.309L0.363,0.118L0.588,0.809L0,0.382L-0.588,0.809L-0.363,0.118L-0.951,-0.309L-0.2245,-0.309Z", "size": 900, "filled": true, "color": "#ff0000", "opacity": 1, "strokeWidth": 0},
      "encoding": {
        "x": {"field": "kcas", "type": "quantitative", "axis": null},
        "y": {"field": "alt", "type": "quantitative", "axis": null}
      }
    },
    {
      "data": {"values": [{"x1": 241.57, "x2": 252.09, "y1": 30477, "y2": 28681}]},
      "mark": {"type": "rect", "fill": "#ffffff", "stroke": "#ff0000", "strokeWidth": 5},
      "encoding": {
        "x": {"field": "x1", "type": "quantitative", "axis": null},
        "x2": {"field": "x2"},
        "y": {"field": "y1", "type": "quantitative", "axis": null},
        "y2": {"field": "y2"}
      }
    },
    {
      "data": {"values": [{"label": "Estimated\nPoint of\nDeparture", "kcas": 246.83, "alt": 30100}]},
      "mark": {"type": "text", "lineBreak": "\n", "lineHeight": 43, "align": "center", "baseline": "middle", "font": "Open Sans", "fontSize": 25, "color": "#000000"},
      "encoding": {
        "x": {"field": "kcas", "type": "quantitative", "axis": null},
        "y": {"field": "alt", "type": "quantitative", "axis": null},
        "text": {"field": "label"}
      }
    }
  ]
}
